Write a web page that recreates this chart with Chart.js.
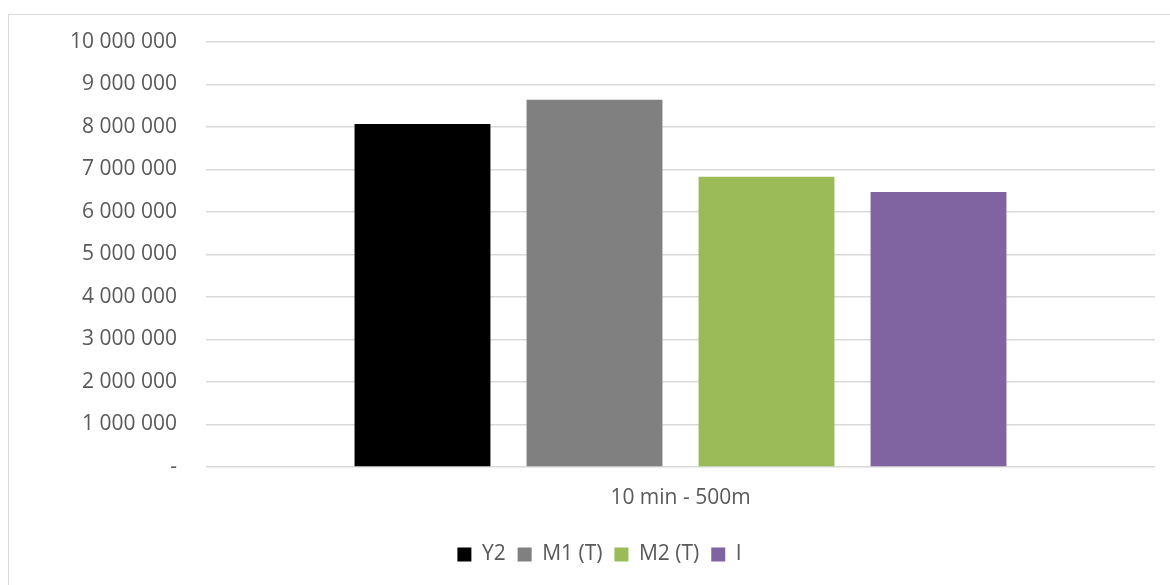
<!DOCTYPE html>
<html>
<head>
<meta charset="utf-8">
<script src="https://cdn.jsdelivr.net/npm/chart.js@4"></script>
<style>
  html, body { margin: 0; padding: 0; background: #fff; }
  #wrap { position: relative; width: 1170px; height: 585px; overflow: hidden; }
  #frame { position: absolute; left: 8px; top: 14px; width: 1200px; height: 600px; border: 1px solid #d9d9d9; box-sizing: border-box; }
  canvas { position: absolute; left: 0; top: 0; }
</style>
</head>
<body>
<div id="wrap">
  <div id="frame"></div>
  <canvas id="grafico" width="1170" height="585"></canvas>
</div>
<script>
const categorias = ['10 min - 500m'];
const series = ['Y2', 'M1 (T)', 'M2 (T)', 'I'];
const valores = [[8070000], [8640000], [6830000], [6470000]];
const cores = ['#000000', '#808080', '#9bbb59', '#8064a2'];

const fonte = { family: '"Open Sans", sans-serif', size: 21 };
const formatar = v => v === 0 ? '-' : v.toLocaleString('en-US').replace(/,/g, ' ');

// legenda fica um pouco a direita no original
const moverLegenda = {
  id: 'moverLegenda',
  afterLayout(chart) {
    chart.legend.left += 22;
    chart.legend.right += 22;
  }
};

const ctx = document.getElementById('grafico').getContext('2d');
new Chart(ctx, {
  type: 'bar',
  data: {
    labels: categorias,
    datasets: series.map((nome, i) => ({
      label: nome,
      data: valores[i],
      backgroundColor: cores[i],
      categoryPercentage: 0.725,
      barPercentage: 0.79
    }))
  },
  options: {
    responsive: false,
    animation: false,
    layout: { padding: { top: 42, right: 15, bottom: 10, left: 0 } },
    plugins: {
      tooltip: { enabled: false },
      legend: {
        position: 'bottom',
        labels: { boxWidth: 14, boxHeight: 14, padding: 12, color: '#595959', font: fonte }
      }
    },
    scales: {
      x: {
        grid: { display: false, drawTicks: false },
        border: { display: false },
        ticks: { color: '#595959', font: fonte, padding: 18 },
        afterFit: s => { s.height = 65; }
      },
      y: {
        min: 0, max: 10000000,
        grid: { color: '#d9d9d9', lineWidth: 1.5, drawTicks: false },
        border: { display: false },
        ticks: { stepSize: 1000000, color: '#595959', font: fonte, padding: 29, callback: formatar },
        afterFit: s => { s.width = 206; }
      }
    }
  },
  plugins: [moverLegenda]
});
</script>
</body>
</html>
